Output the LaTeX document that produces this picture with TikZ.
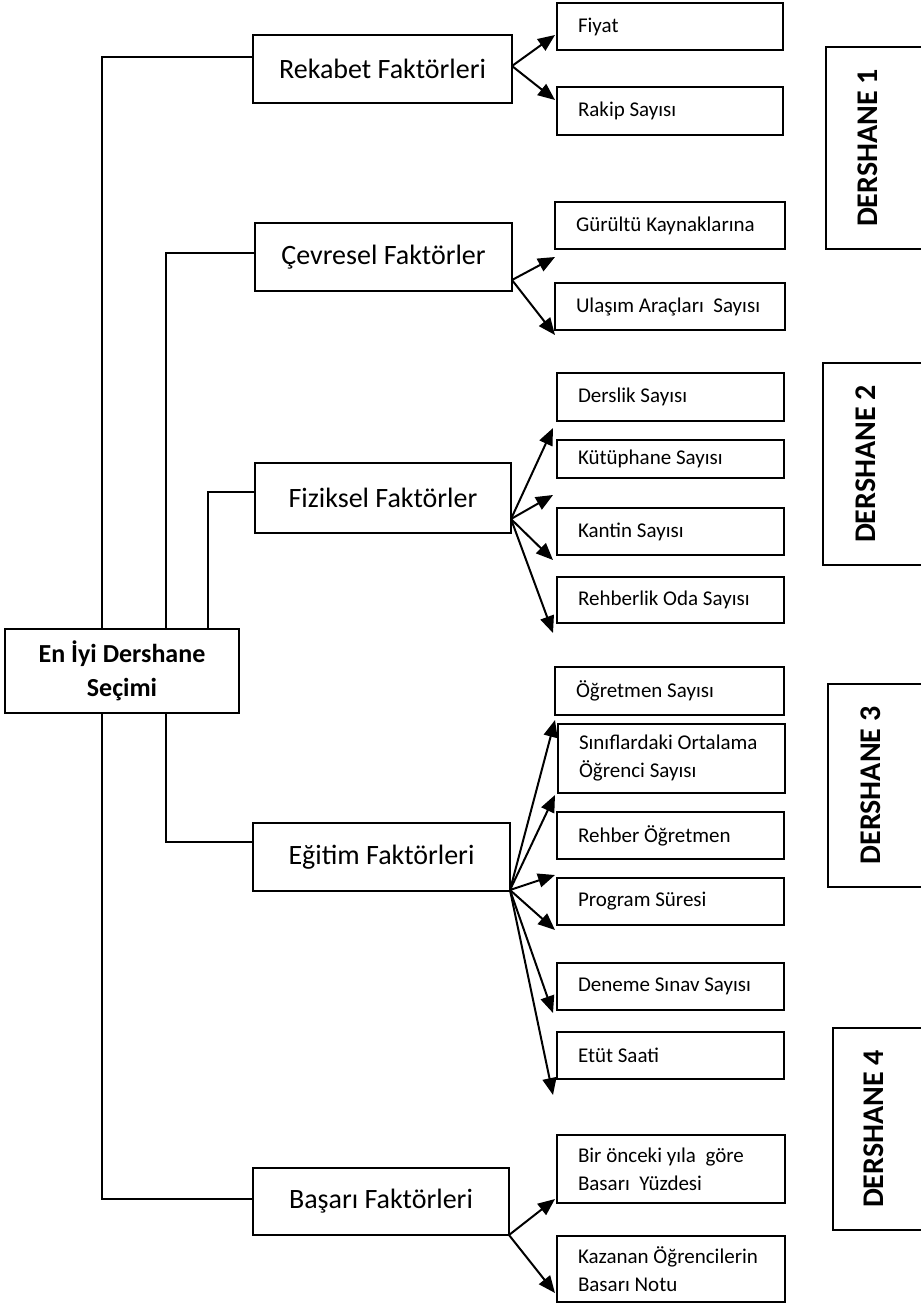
\documentclass[tikz,border=0pt]{standalone}
\usepackage{fontspec}
\setmainfont{Carlito}
\usetikzlibrary{arrows.meta,calc}
\tikzset{
  catbox/.style={draw, line width=1.7pt, inner sep=0pt, outer sep=0pt, font=\fontsize{28}{34}\selectfont},
  cbox/.style={draw, line width=1.7pt, inner sep=0pt, outer sep=0pt},
  ctext/.style={inner sep=0pt, outer sep=0pt, align=left, font=\fontsize{21}{28}\selectfont},
  mainbox/.style={draw, line width=1.9pt, inner sep=0pt, outer sep=0pt, align=center, font=\bfseries\fontsize{26}{34}\selectfont},
  dbox/.style={draw, line width=1.7pt, inner sep=0pt, outer sep=0pt},
  dtext/.style={inner sep=0pt, rotate=90, font=\bfseries\fontsize{30}{34}\selectfont},
  conn/.style={line width=1.4pt},
  arr/.style={line width=2pt, -{Triangle[length=17pt,width=14pt]}}
}
\newcommand\catb[6]{\node[catbox, minimum width={#4-#2}, minimum height={#5-#3}] (#1) at ({(#2+#4)/2},{(#3+#5)/2}) {#6};}
\newcommand\chb[6]{\node[cbox, minimum width={#4-#2}, minimum height={#5-#3}] (#1) at ({(#2+#4)/2},{(#3+#5)/2}) {};
  \node[ctext, anchor=west] (#1t) at ([xshift=21pt]#1.west) {#6};}
\begin{document}
\begin{tikzpicture}[x=1pt,y=-1pt]
\useasboundingbox (0,0) rectangle (921,1304);
% main
\node[mainbox, minimum width=234, minimum height=84] (main) at (122,671) {En İyi Dershane\\Seçimi};
% categories
\catb{rek}{253}{35}{512}{103}{Rekabet Faktörleri}
\catb{cev}{255}{223}{512}{291}{Çevresel Faktörler}
\catb{fiz}{255}{463}{511}{533}{Fiziksel Faktörler}
\catb{egi}{253}{823}{510}{891}{Eğitim Faktörleri}
\catb{bas}{253}{1168}{509}{1235}{Başarı Faktörleri}
% children
\chb{fiy}{557}{3}{783}{50}{Fiyat}
\chb{rak}{557}{87}{783}{135}{Rakip Sayısı}
\chb{gur}{555}{202}{785}{249}{Gürültü Kaynaklarına}
\chb{ula}{555}{283}{785}{330}{Ulaşım Araçları\ \ Sayısı}
\chb{der}{557}{373}{784}{421}{Derslik Sayısı}
\chb{kut}{557}{440}{784}{478}{Kütüphane Sayısı}
\chb{kan}{557}{508}{784}{555}{Kantin Sayısı}
\chb{reh}{557}{577}{784}{623}{Rehberlik Oda Sayısı}
\chb{ogr}{555}{667}{784}{715}{Öğretmen Sayısı}
\chb{sin}{558}{724}{785}{793}{Sınıflardaki Ortalama\\Öğrenci Sayısı}
\chb{rog}{557}{812}{784}{859}{Rehber Öğretmen}
\chb{pro}{557}{878}{784}{925}{Program Süresi}
\chb{den}{557}{963}{784}{1010}{Deneme Sınav Sayısı}
\chb{etu}{557}{1032}{784}{1079}{Etüt Saati}
\chb{bir}{557}{1135}{785}{1203}{Bir önceki yıla\ \ göre\\Basarı\ \ Yüzdesi}
\chb{kaz}{557}{1236}{785}{1302}{Kazanan Öğrencilerin\\Basarı Notu}
% dershane boxes
\node[dbox, minimum width=104, minimum height=202] (d1) at (878,148) {};
\node[dtext] (d1t) at (868,148) {DERSHANE 1};
\node[dbox, minimum width=107, minimum height=202] (d2) at (876.5,464) {};
\node[dtext] (d2t) at (866,464) {DERSHANE 2};
\node[dbox, minimum width=102, minimum height=203] (d3) at (879,785.5) {};
\node[dtext] (d3t) at (871,785.5) {DERSHANE 3};
\node[dbox, minimum width=97, minimum height=202] (d4) at (881.5,1129) {};
\node[dtext] (d4t) at (874,1129) {DERSHANE 4};
% junctions
\coordinate (j1) at (102,57);
\coordinate (j2) at (166,253);
\coordinate (j3) at (208,492);
\coordinate (j4) at (166,842);
\coordinate (j5) at (102,1199);
\draw[conn] (main.north -| j1) |- (rek.west |- j1);
\draw[conn] (main.north -| j2) |- (cev.west |- j2);
\draw[conn] (main.north -| j3) |- (fiz.west |- j3);
\draw[conn] (main.south -| j4) |- (egi.west |- j4);
\draw[conn] (main.south -| j5) |- (bas.west |- j5);
% arrow origins
\coordinate (o1) at (512,66);
\coordinate (o2) at (512,280);
\coordinate (o3) at (511,519);
\coordinate (o4) at (510,890);
\coordinate (o5) at (509,1235);
% tips
\coordinate (t11) at (555,35);
\coordinate (t12) at (555,100);
\coordinate (t21) at (555,257);
\coordinate (t22) at (555,335);
\coordinate (t31) at (553,428);
\coordinate (t32) at (553,495);
\coordinate (t33) at (553,560);
\coordinate (t34) at (553,633);
\coordinate (t41) at (555,720);
\coordinate (t42) at (555,795);
\coordinate (t43) at (555,875);
\coordinate (t44) at (555,930);
\coordinate (t45) at (553,1013);
\coordinate (t46) at (553,1095);
\coordinate (t51) at (555,1199);
\coordinate (t52) at (555,1293);
\foreach \t in {t11,t12} \draw[arr] (o1) -- (\t);
\foreach \t in {t21,t22} \draw[arr] (o2) -- (\t);
\foreach \t in {t31,t32,t33,t34} \draw[arr] (o3) -- (\t);
\foreach \t in {t41,t42,t43,t44,t45,t46} \draw[arr] (o4) -- (\t);
\foreach \t in {t51,t52} \draw[arr] (o5) -- (\t);
\end{tikzpicture}
\end{document}
